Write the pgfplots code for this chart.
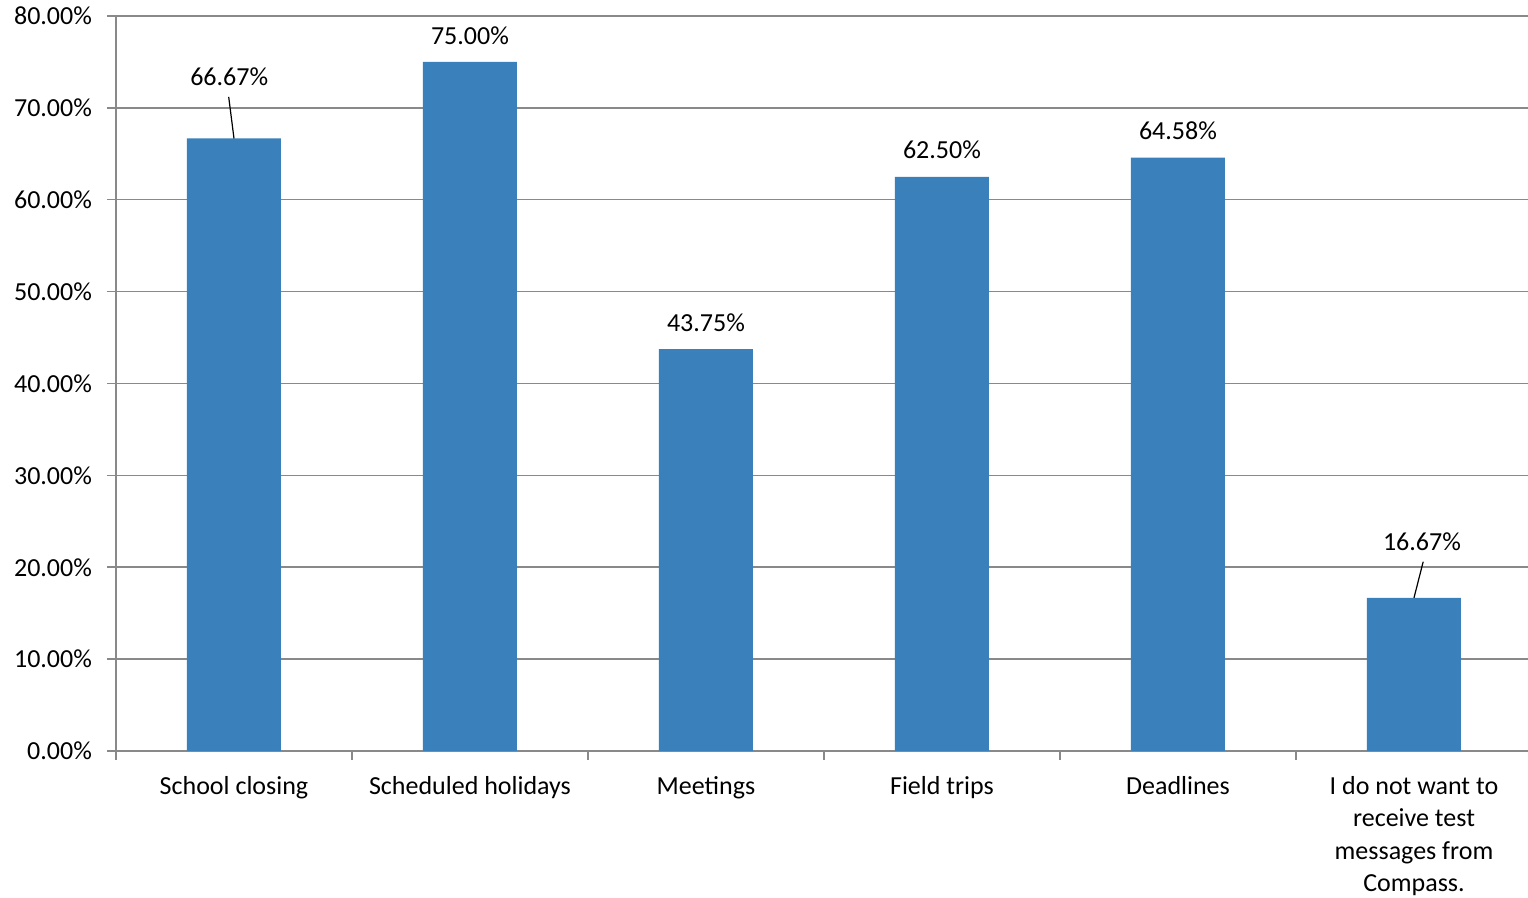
\documentclass[border=0pt]{standalone}
\usepackage{fontspec}
\setmainfont{Carlito}
\usepackage{pgfplots}
\usepackage{pgfplotstable}
\pgfplotsset{compat=1.18}
\definecolor{barblue}{RGB}{58,128,187}
\definecolor{gridgray}{RGB}{137,137,137}

% x = category index, y = share in %, dx/dy = label offset (pt)
\pgfplotstableread{
x y dx dy
0 66.67 -2.4 30.8
1 75.00 0 13.25
2 43.75 0 13.25
3 62.50 0 13.5
4 64.58 0 13.5
5 16.67 4 27.9
}\datatable

\begin{document}
\begin{tikzpicture}[font=\fontsize{13}{16.25}\selectfont]
\useasboundingbox (-58pt,-73.5pt) rectangle (706pt,375.5pt);
\begin{axis}[
  at={(0,0)}, anchor=south west,
  width=708pt, height=367.5pt, scale only axis,
  xmin=-0.5, xmax=5.5, ymin=0, ymax=80,
  axis lines*=left,
  axis line style={gridgray, line width=0.75pt},
  ymajorgrids, grid style={gridgray, line width=0.75pt},
  tick align=outside, major tick length=4.5pt,
  tick style={gridgray, line width=0.75pt},
  /pgf/number format/assume math mode=true,
  ytick={0,10,...,80},
  yticklabel={\pgfmathprintnumber[fixed,fixed zerofill,precision=2]{\tick}\%},
  yticklabel style={xshift=-4pt},
  xtick={-0.5,0.5,1.5,2.5,3.5,4.5},
  xticklabels={School closing, Scheduled holidays, Meetings, Field trips, Deadlines,
    {I do not want to\\receive test\\messages from\\Compass.}},
  xticklabel style={align=center, anchor=north, xshift=59pt, yshift=-4.5pt},
  ybar, bar width=47pt,
  nodes near coords={\pgfmathprintnumber[fixed,fixed zerofill,precision=2]{\pgfplotspointmeta}\%},
  point meta=y,
  visualization depends on={\thisrow{dx} \as \dx},
  visualization depends on={\thisrow{dy} \as \dy},
  nodes near coords style={anchor=center, xshift=\dx pt, yshift=\dy pt, text=black},
]
\addplot[fill=barblue, draw=none] table[x=x, y=y] {\datatable};
\draw[black, line width=0.6pt] (axis cs:-0.0225,71.2) -- (axis cs:0,66.67);
\draw[black, line width=0.6pt] (axis cs:5.039,20.6) -- (axis cs:5.0,16.67);
\end{axis}
\end{tikzpicture}
\end{document}
